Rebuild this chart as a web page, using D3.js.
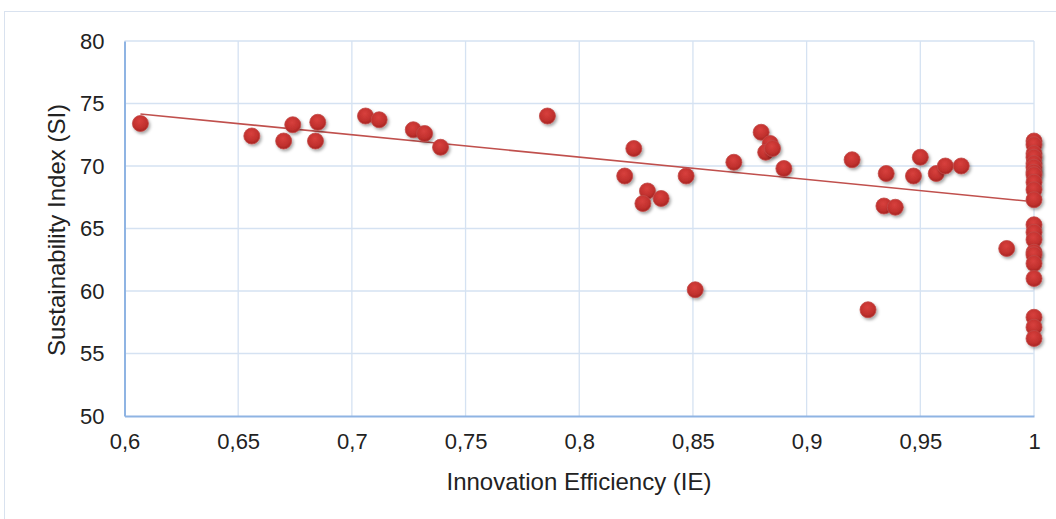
<!DOCTYPE html>
<html>
<head>
<meta charset="utf-8">
<script src="https://cdn.jsdelivr.net/npm/d3@7"></script>
<style>
  html, body { margin: 0; padding: 0; background: #ffffff; }
  svg { display: block; }
  text { font-family: "Liberation Sans", Arial, sans-serif; fill: #222; }
</style>
</head>
<body>
<svg id="chart" width="1056" height="519"></svg>
<script>
// Innovation Efficiency (IE) of each observation
const ieValues = [
  0.607, 0.656, 0.670, 0.674, 0.685, 0.684, 0.706, 0.712, 0.727, 0.732,
  0.739, 0.786, 0.824, 0.820, 0.830, 0.836, 0.828, 0.847, 0.851, 0.868,
  0.880, 0.884, 0.882, 0.885, 0.890, 0.920, 0.935, 0.950, 0.947, 0.957,
  0.961, 0.968, 0.934, 0.939, 0.927, 0.988,
  1, 1, 1, 1, 1, 1, 1, 1, 1, 1, 1, 1, 1, 1, 1, 1, 1, 1, 1, 1, 1
];
// Sustainability Index (SI) of each observation
const siValues = [
  73.4, 72.4, 72.0, 73.3, 73.5, 72.0, 74.0, 73.7, 72.9, 72.6,
  71.5, 74.0, 71.4, 69.2, 68.0, 67.4, 67.0, 69.2, 60.1, 70.3,
  72.7, 71.8, 71.1, 71.4, 69.8, 70.5, 69.4, 70.7, 69.2, 69.4,
  70.0, 70.0, 66.8, 66.7, 58.5, 63.4,
  72.0, 71.7, 71.0, 70.7, 70.2, 69.9, 69.5, 69.3, 68.7, 68.1, 67.3,
  65.3, 64.7, 64.1, 63.1, 62.9, 62.2, 61.0, 57.9, 57.1, 56.2
];
// Linear trend fitted to SI over IE
const trendSlope = -17.86;
const trendIntercept = 85.0;

const xTicks = [0.6, 0.65, 0.7, 0.75, 0.8, 0.85, 0.9, 0.95, 1];
const yTicks = [50, 55, 60, 65, 70, 75, 80];
const xTitle = "Innovation Efficiency (IE)";
const yTitle = "Sustainability Index (SI)";

const svg = d3.select("#chart");
const plot = { left: 124.5, right: 1034, top: 41, bottom: 416 };

const x = d3.scaleLinear().domain([0.6, 1]).range([plot.left, plot.right]);
const y = d3.scaleLinear().domain([50, 80]).range([plot.bottom, plot.top]);
const fmt = v => String(v).replace(".", ",");

// outer chart frame
svg.append("rect")
  .attr("x", 4.5).attr("y", 11.5)
  .attr("width", 1060).attr("height", 520)
  .attr("fill", "none").attr("stroke", "#d9e2ef").attr("stroke-width", 1);

const defs = svg.append("defs");
const grad = defs.append("radialGradient")
  .attr("id", "dotFill").attr("cx", "45%").attr("cy", "35%").attr("r", "65%");
grad.append("stop").attr("offset", "0%").attr("stop-color", "#d8403d");
grad.append("stop").attr("offset", "70%").attr("stop-color", "#c0302d");
grad.append("stop").attr("offset", "100%").attr("stop-color", "#a52422");
const shadow = defs.append("filter").attr("id", "dotShadow")
  .attr("x", "-50%").attr("y", "-50%").attr("width", "200%").attr("height", "200%");
shadow.append("feDropShadow")
  .attr("dx", 1.5).attr("dy", 2).attr("stdDeviation", 1.6)
  .attr("flood-color", "#000").attr("flood-opacity", 0.35);

// gridlines
svg.append("g").selectAll("line").data(xTicks.slice(1)).join("line")
  .attr("x1", d => x(d)).attr("x2", d => x(d))
  .attr("y1", plot.top).attr("y2", plot.bottom)
  .attr("stroke", "#d5e2f2").attr("stroke-width", 1.3);
svg.append("g").selectAll("line").data(yTicks.slice(1)).join("line")
  .attr("x1", plot.left).attr("x2", plot.right)
  .attr("y1", d => y(d)).attr("y2", d => y(d))
  .attr("stroke", "#d5e2f2").attr("stroke-width", 1.3);

// axes
const xAxis = svg.append("g").attr("transform", `translate(0,${plot.bottom})`)
  .call(d3.axisBottom(x).tickValues(xTicks).tickFormat(fmt).tickSize(0).tickPadding(17));
const yAxis = svg.append("g").attr("transform", `translate(${plot.left},0)`)
  .call(d3.axisLeft(y).tickValues(yTicks).tickSize(0).tickPadding(20));
[xAxis, yAxis].forEach(g => {
  g.select(".domain").attr("stroke", "#8fb4e3").attr("stroke-width", 2);
  g.selectAll("text").attr("font-size", 22)
    .attr("font-family", "'Liberation Sans', Arial, sans-serif").attr("fill", "#1a1a1a");
});

// trend line
const xExt = d3.extent(ieValues);
svg.append("line")
  .attr("x1", x(xExt[0])).attr("y1", y(trendSlope * xExt[0] + trendIntercept))
  .attr("x2", x(xExt[1])).attr("y2", y(trendSlope * xExt[1] + trendIntercept))
  .attr("stroke", "#c0504d").attr("stroke-width", 1.6);

// observations
const points = ieValues.map((v, i) => ({ ie: v, si: siValues[i] }));
svg.append("g").selectAll("circle").data(points).join("circle")
  .attr("cx", d => x(d.ie)).attr("cy", d => y(d.si)).attr("r", 8)
  .attr("fill", "url(#dotFill)")
  .attr("stroke", "#c24a47").attr("stroke-width", 0.8)
  .attr("filter", "url(#dotShadow)");

// axis titles
svg.append("text")
  .attr("x", 579).attr("y", 490)
  .attr("text-anchor", "middle").attr("font-size", 24).attr("fill", "#1a1a1a")
  .text(xTitle);
svg.append("text")
  .attr("transform", `translate(65,230) rotate(-90)`)
  .attr("text-anchor", "middle").attr("font-size", 24).attr("fill", "#1a1a1a")
  .text(yTitle);
</script>
</body>
</html>
